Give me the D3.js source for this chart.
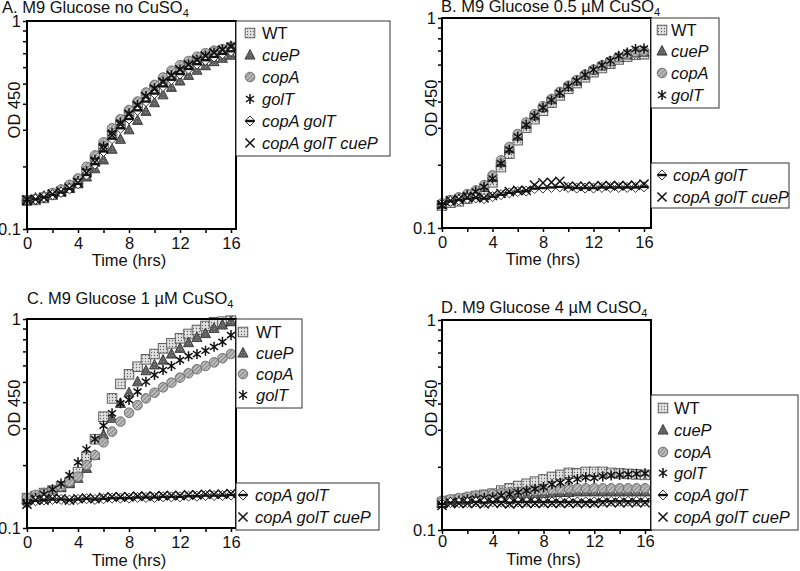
<!DOCTYPE html>
<html><head><meta charset="utf-8">
<script src="https://cdn.jsdelivr.net/npm/d3@7"></script>
<style>body{margin:0;background:#fff}svg{display:block}text{font-family:"Liberation Sans",Arial,sans-serif}</style>
</head><body>
<svg id="c" width="800" height="571"></svg>
<script>
// ---------- data ----------
const time = [0,0.67,1.33,2,2.67,3.33,4,4.67,5.33,6,6.67,7.33,8,8.67,9.33,10,10.67,11.33,12,12.67,13.33,14,14.67,15.33,16];
const strains = ["WT","cueP","copA","golT","copA golT","copA golT cueP"];
const xTicks = [0,2,4,6,8,10,12,14,16];
const xTickLabels = [0,4,8,12,16];
const yTicks = [0.1,0.2,0.3,0.4,0.5,0.6,0.7,0.8,0.9,1];
const yTickLabels = [0.1,1];
const titles = ["A. M9 Glucose no CuSO","B. M9 Glucose 0.5 µM CuSO","C. M9 Glucose 1 µM CuSO","D. M9 Glucose 4 µM CuSO"];

// Panel A: no CuSO4
const A_WT   = [0.137,0.138,0.141,0.146,0.151,0.158,0.168,0.188,0.212,0.245,0.285,0.318,0.352,0.388,0.428,0.466,0.505,0.545,0.580,0.612,0.645,0.672,0.695,0.715,0.735];
const A_cueP = [0.139,0.141,0.144,0.148,0.152,0.157,0.165,0.178,0.195,0.215,0.242,0.270,0.300,0.333,0.368,0.405,0.442,0.480,0.515,0.548,0.580,0.610,0.638,0.662,0.685];
const A_copA = [0.138,0.139,0.143,0.149,0.155,0.163,0.175,0.199,0.226,0.261,0.305,0.337,0.373,0.410,0.453,0.493,0.535,0.577,0.613,0.642,0.673,0.700,0.720,0.733,0.752];
const A_golT = [0.135,0.138,0.141,0.146,0.151,0.158,0.170,0.190,0.215,0.250,0.290,0.325,0.360,0.395,0.436,0.475,0.512,0.550,0.585,0.618,0.650,0.680,0.705,0.730,0.760];
const A_copAgolT = [0.137,0.139,0.142,0.146,0.150,0.156,0.165,0.182,0.205,0.236,0.272,0.305,0.338,0.372,0.410,0.448,0.485,0.522,0.556,0.588,0.620,0.648,0.672,0.695,0.715];
const A_copAgolTcueP = [0.138,0.139,0.142,0.147,0.151,0.157,0.167,0.186,0.210,0.243,0.282,0.318,0.355,0.392,0.432,0.470,0.508,0.546,0.582,0.615,0.648,0.678,0.703,0.725,0.750];

// Panel B: 0.5 uM CuSO4
const B_WT   = [0.128,0.132,0.134,0.138,0.143,0.150,0.165,0.195,0.226,0.262,0.300,0.330,0.362,0.395,0.428,0.460,0.490,0.522,0.552,0.578,0.606,0.635,0.655,0.668,0.672];
const B_cueP = [0.130,0.135,0.138,0.142,0.148,0.156,0.174,0.205,0.238,0.274,0.312,0.342,0.375,0.408,0.440,0.472,0.502,0.535,0.565,0.592,0.620,0.648,0.668,0.682,0.688];
const B_copA = [0.131,0.136,0.140,0.145,0.151,0.160,0.178,0.210,0.243,0.280,0.318,0.348,0.380,0.412,0.445,0.476,0.506,0.538,0.568,0.595,0.622,0.650,0.672,0.688,0.695];
const B_golT = [0.128,0.134,0.138,0.143,0.149,0.157,0.172,0.203,0.236,0.272,0.310,0.342,0.374,0.406,0.440,0.472,0.503,0.536,0.567,0.596,0.626,0.660,0.685,0.712,0.715];
const B_copAgolT = [0.130,0.134,0.136,0.138,0.139,0.138,0.141,0.144,0.147,0.149,0.150,0.154,0.155,0.156,0.157,0.156,0.155,0.155,0.155,0.156,0.156,0.156,0.156,0.156,0.157];
const B_copAgolTcueP = [0.129,0.135,0.137,0.140,0.140,0.139,0.143,0.146,0.149,0.151,0.151,0.160,0.164,0.165,0.167,0.158,0.158,0.158,0.158,0.159,0.159,0.159,0.159,0.160,0.162];

// Panel C: 1 uM CuSO4
const C_WT   = [0.139,0.142,0.147,0.151,0.158,0.165,0.185,0.219,0.266,0.341,0.417,0.489,0.544,0.591,0.641,0.680,0.724,0.765,0.808,0.848,0.886,0.926,0.965,0.971,0.982];
const C_cueP = [0.136,0.140,0.145,0.150,0.156,0.163,0.173,0.193,0.223,0.279,0.335,0.395,0.444,0.501,0.566,0.603,0.636,0.680,0.724,0.771,0.816,0.852,0.902,0.936,0.971];
const C_copA = [0.139,0.144,0.147,0.151,0.158,0.166,0.176,0.200,0.223,0.257,0.289,0.323,0.356,0.387,0.417,0.444,0.471,0.496,0.524,0.550,0.575,0.596,0.620,0.649,0.680];
const C_golT = [0.133,0.139,0.145,0.153,0.163,0.179,0.206,0.238,0.266,0.309,0.354,0.395,0.410,0.449,0.501,0.540,0.570,0.596,0.636,0.664,0.680,0.705,0.736,0.777,0.837];
const C_copAgolT = [0.131,0.135,0.136,0.137,0.137,0.136,0.137,0.138,0.137,0.138,0.139,0.139,0.139,0.140,0.140,0.140,0.141,0.141,0.141,0.142,0.142,0.143,0.143,0.143,0.144];
const C_copAgolTcueP = [0.130,0.136,0.136,0.138,0.138,0.136,0.138,0.139,0.138,0.140,0.141,0.141,0.141,0.142,0.142,0.142,0.143,0.143,0.143,0.144,0.144,0.145,0.145,0.145,0.146];

// Panel D: 4 uM CuSO4
const D_WT   = [0.135,0.138,0.140,0.142,0.145,0.147,0.149,0.154,0.158,0.162,0.166,0.170,0.174,0.179,0.183,0.187,0.186,0.189,0.189,0.189,0.187,0.186,0.185,0.184,0.183];
const D_cueP = [0.134,0.137,0.139,0.140,0.141,0.142,0.143,0.144,0.145,0.146,0.147,0.148,0.149,0.150,0.151,0.151,0.152,0.152,0.152,0.152,0.152,0.152,0.152,0.152,0.152];
const D_copA = [0.138,0.140,0.142,0.144,0.146,0.147,0.148,0.150,0.151,0.152,0.153,0.154,0.155,0.156,0.157,0.158,0.158,0.158,0.158,0.158,0.158,0.158,0.158,0.158,0.158];
const D_golT = [0.132,0.136,0.138,0.140,0.141,0.142,0.143,0.146,0.148,0.151,0.154,0.157,0.160,0.165,0.168,0.172,0.175,0.178,0.177,0.180,0.182,0.183,0.184,0.185,0.186];
const D_copAgolT = [0.133,0.135,0.135,0.135,0.136,0.135,0.136,0.136,0.135,0.136,0.136,0.136,0.136,0.136,0.136,0.136,0.136,0.136,0.136,0.137,0.137,0.137,0.137,0.137,0.137];
const D_copAgolTcueP = [0.131,0.134,0.134,0.134,0.134,0.133,0.135,0.134,0.133,0.134,0.134,0.134,0.134,0.134,0.134,0.134,0.134,0.134,0.134,0.135,0.135,0.135,0.135,0.135,0.135];

// ---------- layout ----------
const FS = 16.5;
const markerTypes = ["square","triangle","circle","asterisk","diamond","cross"];
const panels = [
  {title:titles[0], series:[A_WT,A_cueP,A_copA,A_golT,A_copAgolT,A_copAgolTcueP],
   x0:27, x16:231, right:236, top:21, bottom:229, titleX:2, titleY:13, ylabX:20, ylabY:110, xlabY:266, tickY:0,
   legends:[{x:236,y:21,w:154,h:135,items:[0,1,2,3,4,5],ys:[33,55,77,99,121,143],sx:250,tx:262}]},
  {title:titles[1], series:[B_WT,B_cueP,B_copA,B_golT,B_copAgolT,B_copAgolTcueP],
   x0:442, x16:644, right:651, top:18, bottom:228, titleX:441, titleY:12, ylabX:437, ylabY:108, xlabY:265, tickY:0,
   legends:[{x:651,y:18,w:68,h:90,items:[0,1,2,3],ys:[30,51,73,95],sx:662,tx:671},
            {x:651,y:163,w:138,h:45,items:[4,5],ys:[175,197],sx:662,tx:673}]},
  {title:titles[2], series:[C_WT,C_cueP,C_copA,C_golT,C_copAgolT,C_copAgolTcueP],
   x0:27, x16:231, right:236, top:319, bottom:528, titleX:27, titleY:304, ylabX:20, ylabY:408, xlabY:566, tickY:0,
   legends:[{x:236,y:319,w:66,h:89,items:[0,1,2,3],ys:[332,353,374,395],sx:243,tx:256},
            {x:236,y:483,w:143,h:47,items:[4,5],ys:[495,517],sx:243,tx:255}]},
  {title:titles[3], series:[D_WT,D_cueP,D_copA,D_golT,D_copAgolT,D_copAgolTcueP],
   x0:442, x16:645, right:651, top:320, bottom:530, titleX:441, titleY:313, ylabX:437, ylabY:408, xlabY:565, tickY:-3,
   legends:[{x:651,y:395,w:147,h:135,items:[0,1,2,3,4,5],ys:[408,430,452,473,495,517],sx:663,tx:674}]}
];

const svg = d3.select("#c");
svg.append("rect").attr("width",800).attr("height",571).attr("fill","#fff");

// patterns
const defs = svg.append("defs");
const pd = defs.append("pattern").attr("id","pDots").attr("width",3).attr("height",3).attr("patternUnits","userSpaceOnUse");
pd.append("rect").attr("width",3).attr("height",3).attr("fill","#e0e0e0");
pd.append("circle").attr("cx",1.5).attr("cy",1.5).attr("r",0.65).attr("fill","#666");
const pt = defs.append("pattern").attr("id","pTri").attr("width",3).attr("height",3).attr("patternUnits","userSpaceOnUse");
pt.append("rect").attr("width",3).attr("height",3).attr("fill","#5f5f5f");
pt.append("circle").attr("cx",1.5).attr("cy",1.5).attr("r",0.6).attr("fill","#999");
const ph = defs.append("pattern").attr("id","pHatch").attr("width",3).attr("height",3).attr("patternUnits","userSpaceOnUse").attr("patternTransform","rotate(45)");
ph.append("rect").attr("width",3).attr("height",3).attr("fill","#bbbbbb");
ph.append("line").attr("x1",0).attr("y1",0).attr("x2",0).attr("y2",3).attr("stroke","#707070").attr("stroke-width",1.4);

function marker(g, type, x, y){
  const s = 4.8;
  if(type==="square"){
    g.append("rect").attr("x",x-s).attr("y",y-s).attr("width",2*s).attr("height",2*s)
     .attr("fill","url(#pDots)").attr("stroke","#555").attr("stroke-width",0.9);
  } else if(type==="triangle"){
    g.append("path").attr("d",`M${x},${y-s*1.15}L${x+s*1.05},${y+s*0.85}L${x-s*1.05},${y+s*0.85}Z`)
     .attr("fill","url(#pTri)").attr("stroke","#333").attr("stroke-width",0.9);
  } else if(type==="circle"){
    g.append("circle").attr("cx",x).attr("cy",y).attr("r",s)
     .attr("fill","url(#pHatch)").attr("stroke","#666").attr("stroke-width",0.9);
  } else if(type==="asterisk"){
    const r = s*1.05, dx = r*0.8, dy = r*0.6;
    g.append("path").attr("d",`M${x},${y-r}L${x},${y+r}M${x-dx},${y-dy}L${x+dx},${y+dy}M${x-dx},${y+dy}L${x+dx},${y-dy}`)
     .attr("stroke","#111").attr("stroke-width",1.5).attr("fill","none");
  } else if(type==="diamond"){
    const r = s*1.05;
    g.append("path").attr("d",`M${x},${y-r}L${x+r},${y}L${x},${y+r}L${x-r},${y}Z`)
     .attr("fill","#fff").attr("stroke","#222").attr("stroke-width",0.9);
    g.append("path").attr("d",`M${x-r*0.85},${y}L${x+r*0.85},${y}`).attr("stroke","#111").attr("stroke-width",2.4);
  } else if(type==="cross"){
    const r = s*0.95;
    g.append("path").attr("d",`M${x-r},${y-r}L${x+r},${y+r}M${x-r},${y+r}L${x+r},${y-r}`)
     .attr("stroke","#111").attr("stroke-width",1.5).attr("fill","none");
  }
}

panels.forEach(p => {
  const g = svg.append("g");
  const x = d3.scaleLinear().domain([0,16]).range([p.x0,p.x16]);
  const y = d3.scaleLog().domain([0.1,1]).range([p.bottom,p.top]);

  // data markers
  const dg = g.append("g");
  p.series.forEach((vals,si) => {
    vals.forEach((v,i) => marker(dg, markerTypes[si], x(time[i]), y(v)));
  });

  // frame
  g.append("rect").attr("x",p.x0).attr("y",p.top).attr("width",p.right-p.x0).attr("height",p.bottom-p.top)
    .attr("fill","none").attr("stroke","#000").attr("stroke-width",2);

  // axes
  const ya = d3.axisLeft(y).tickValues(yTicks).tickSize(4).tickPadding(2)
    .tickFormat(d => yTickLabels.includes(d) ? String(d) : "");
  const yg = g.append("g").attr("transform",`translate(${p.x0},0)`).call(ya);
  yg.select(".domain").remove();
  yg.selectAll("line").attr("stroke","#000").attr("stroke-width",1.5);
  yg.selectAll("text").attr("font-size",FS).attr("fill","#111").style("font-family","Liberation Sans, Arial, sans-serif");

  const xa = d3.axisBottom(x).tickValues(xTicks).tickSize(4).tickPadding(4)
    .tickFormat(d => xTickLabels.includes(d) ? String(d) : "");
  const xg = g.append("g").attr("transform",`translate(0,${p.bottom})`).call(xa);
  xg.select(".domain").remove();
  xg.selectAll("line").attr("stroke","#000").attr("stroke-width",1.5);
  xg.selectAll("text").attr("font-size",FS).attr("fill","#111").attr("y",8+p.tickY).style("font-family","Liberation Sans, Arial, sans-serif");

  // axis labels
  g.append("text").attr("x",(p.x0+p.x16)/2).attr("y",p.xlabY).attr("text-anchor","middle")
    .attr("font-size",FS).attr("fill","#111").text("Time (hrs)");
  g.append("text").attr("transform",`translate(${p.ylabX},${p.ylabY}) rotate(-90)`).attr("text-anchor","middle")
    .attr("font-size",FS).attr("fill","#111").text("OD 450");

  // title
  const t = g.append("text").attr("x",p.titleX).attr("y",p.titleY).attr("font-size",FS).attr("fill","#111");
  t.append("tspan").text(p.title);
  t.append("tspan").attr("font-size",11).attr("dy",4).text("4");

  // legends
  p.legends.forEach(L => {
    g.append("rect").attr("x",L.x).attr("y",L.y).attr("width",L.w).attr("height",L.h)
      .attr("fill","#fff").attr("stroke","#333").attr("stroke-width",1);
    L.items.forEach((si,k) => {
      marker(g, markerTypes[si], L.sx, L.ys[k]);
      g.append("text").attr("x",L.tx).attr("y",L.ys[k]+5.5).attr("font-size",FS).attr("fill","#111")
        .attr("font-style", si===0 ? "normal" : "italic").text(strains[si]);
    });
  });
});
</script>
</body></html>
